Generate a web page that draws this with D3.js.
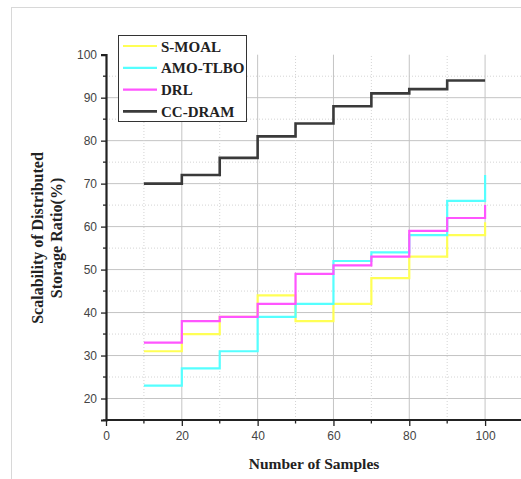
<!DOCTYPE html>
<html>
<head>
<meta charset="utf-8">
<script src="https://cdn.jsdelivr.net/npm/d3@7"></script>
<style>
  body { margin: 0; background: #fff; }
  svg { display: block; }
</style>
</head>
<body>
<svg id="chart"></svg>
<script>
// samples on the x axis, one value per step
const samples = [10, 20, 30, 40, 50, 60, 70, 80, 90, 100]
const sMoal   = [31, 35, 39, 44, 38, 42, 48, 53, 58, 61]
const amoTlbo = [23, 27, 31, 39, 42, 52, 54, 58, 66, 72]
const drl     = [33, 38, 39, 42, 49, 51, 53, 59, 62, 65]
const ccDram  = [70, 72, 76, 81, 84, 88, 91, 92, 94, 94]

const seriesNames = ["S-MOAL", "AMO-TLBO", "DRL", "CC-DRAM"]
const seriesColors = ["#ffff55", "#55ffff", "#ff55ff", "#3a3a3a"]
const seriesValues = [sMoal, amoTlbo, drl, ccDram]

const xTicks = [0, 20, 40, 60, 80, 100]
const yTicks = [20, 30, 40, 50, 60, 70, 80, 90, 100]

const width = 521, height = 479
const svg = d3.select("#chart").attr("width", width).attr("height", height)

// outer light frame
svg.append("rect")
  .attr("x", 11.5).attr("y", 7.5)
  .attr("width", 530).attr("height", 490)
  .attr("fill", "none").attr("stroke", "#d8d8d8")

const x = d3.scaleLinear().domain([0, 110]).range([106, 523])
const y = d3.scaleLinear().domain([15, 100]).range([420, 54.7])

// grid
const grid = svg.append("g")
grid.selectAll(".hminor").data(d3.range(15, 100, 10))
  .enter().append("line")
  .attr("x1", x(0)).attr("x2", width)
  .attr("y1", d => y(d)).attr("y2", d => y(d))
  .attr("stroke", "#d4d4d4").attr("stroke-dasharray", "1,2")
grid.selectAll(".hmajor").data(d3.range(20, 100, 10))
  .enter().append("line")
  .attr("x1", x(0)).attr("x2", width)
  .attr("y1", d => y(d)).attr("y2", d => y(d))
  .attr("stroke", "#c4c4c4")
grid.selectAll(".vminor").data(d3.range(10, 110, 20))
  .enter().append("line")
  .attr("x1", d => x(d)).attr("x2", d => x(d))
  .attr("y1", y(15)).attr("y2", y(100))
  .attr("stroke", "#d4d4d4").attr("stroke-dasharray", "1,2")
grid.selectAll(".vmajor").data(xTicks.slice(1))
  .enter().append("line")
  .attr("x1", d => x(d)).attr("x2", d => x(d))
  .attr("y1", y(15)).attr("y2", y(100))
  .attr("stroke", "#c4c4c4")

// step lines
const line = d3.line()
  .x(d => x(d[0]))
  .y(d => y(d[1]))
  .curve(d3.curveStepAfter)

seriesValues.forEach((vals, i) => {
  svg.append("path")
    .datum(samples.map((s, j) => [s, vals[j]]))
    .attr("fill", "none")
    .attr("stroke", seriesColors[i])
    .attr("stroke-width", i == 3 ? 2.6 : 2.2)
    .attr("d", line)
})

// axes
const tickFont = "'Liberation Sans', Arial, sans-serif"
const xAxis = svg.append("g")
  .attr("transform", `translate(0,${y(15)})`)
  .call(d3.axisBottom(x).tickValues(xTicks).tickSize(6).tickPadding(5))
xAxis.append("g").selectAll("line").data(d3.range(10, 110, 20))
  .enter().append("line")
  .attr("x1", d => x(d)).attr("x2", d => x(d))
  .attr("y1", 0).attr("y2", 3.5)
  .attr("stroke", "#222").attr("stroke-width", 1.3)

const yAxis = svg.append("g")
  .attr("transform", `translate(${x(0)},0)`)
  .call(d3.axisLeft(y).tickValues(yTicks).tickSize(5).tickPadding(4))
yAxis.append("g").selectAll("line").data(d3.range(15, 100, 10))
  .enter().append("line")
  .attr("x1", 0).attr("x2", -3)
  .attr("y1", d => y(d)).attr("y2", d => y(d))
  .attr("stroke", "#222").attr("stroke-width", 1.3)

svg.selectAll(".domain").attr("stroke", "#222").attr("stroke-width", 2.2)
xAxis.select(".domain").attr("d", `M${x(0)},0H${width}`)
svg.selectAll(".tick line").attr("stroke", "#222").attr("stroke-width", 1.3)
svg.selectAll(".tick text")
  .attr("font-family", tickFont).attr("font-size", 12).attr("fill", "#444")

// axis titles
const titleFont = "'Liberation Serif', 'Times New Roman', serif"
svg.append("text")
  .attr("x", 314).attr("y", 469)
  .attr("text-anchor", "middle")
  .attr("font-family", titleFont).attr("font-weight", "bold").attr("font-size", 15.5)
  .attr("fill", "#222")
  .text("Number of Samples")

const yTitle = svg.append("text")
  .attr("transform", "translate(38,238) rotate(-90)")
  .attr("text-anchor", "middle")
  .attr("font-family", titleFont).attr("font-weight", "bold").attr("font-size", 16)
  .attr("fill", "#222")
yTitle.append("tspan").attr("x", 0).attr("y", 5).text("Scalability of Distributed")
yTitle.append("tspan").attr("x", 0).attr("y", 24).text("Storage Ratio(%)")

// legend
const legend = svg.append("g")
legend.append("rect")
  .attr("x", 118.5).attr("y", 35.5)
  .attr("width", 128).attr("height", 86)
  .attr("fill", "#fff").attr("stroke", "#333").attr("stroke-width", 1)

seriesNames.forEach((name, i) => {
  const ly = 46 + i * 21.8
  legend.append("line")
    .attr("x1", 123).attr("x2", 157)
    .attr("y1", ly).attr("y2", ly)
    .attr("stroke", seriesColors[i]).attr("stroke-width", i == 3 ? 2.6 : 2.2)
  legend.append("text")
    .attr("x", 161).attr("y", ly + 5.5)
    .attr("font-family", titleFont).attr("font-weight", "bold").attr("font-size", 15)
    .attr("fill", "#222")
    .text(name)
})
</script>
</body>
</html>
